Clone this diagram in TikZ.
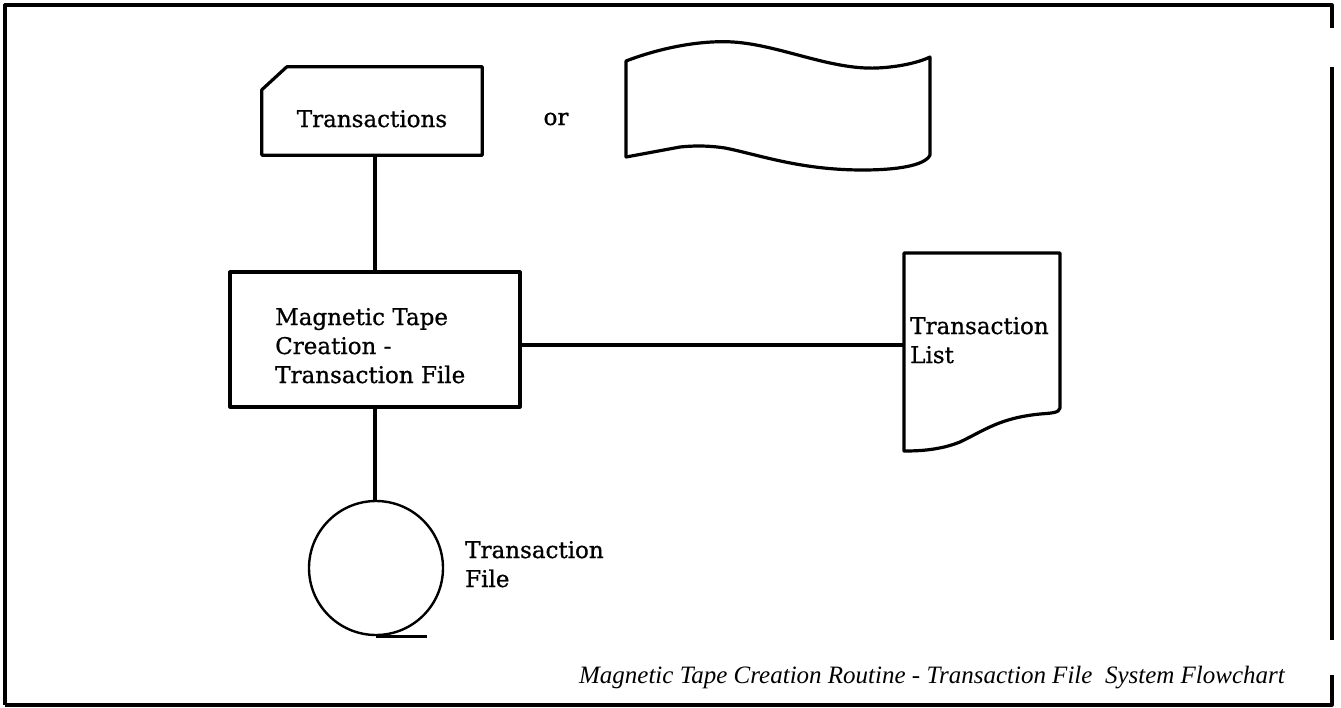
\documentclass[tikz,border=0pt]{standalone}
\usepackage{fontspec}
\setmainfont{DejaVu Serif}[FakeBold=0.8]
\newfontfamily\capfont{Liberation Serif}
\begin{document}
\begin{tikzpicture}[x=1pt,y=-1pt,line join=round,
  symb/.style={draw,line width=3.2pt},
  link/.style={line width=3.2pt},
  frame/.style={line width=3.2pt},
  lbl/.style={font=\fontsize{23}{29}\selectfont,inner sep=0pt,align=left},
  capt/.style={font=\capfont\itshape\fontsize{25}{30}\selectfont,inner sep=0pt}]
\useasboundingbox (0,0) rectangle (1341,707);

% outer frame (right edge broken)
\draw[frame] (5,705) -- (5,5) -- (1332,5) -- (1332,28);
\draw[frame] (5,705) -- (1332,705) -- (1332,675);
\draw[frame] (1332,67) -- (1332,640);

% punched card input
\node[inner sep=0pt,minimum width=220,minimum height=88] (card) at (372,111) {};
\draw[symb] ([yshift=-23pt]card.north west) -- ([xshift=25pt]card.north west)
  -- (card.north east) -- (card.south east) -- (card.south west) -- cycle;
\node[lbl,anchor=base] (trans) at (372,127) {Transactions};

\node[lbl,anchor=base] (or) at (556,125) {or};

% punched tape input
\draw[symb] (626,61) .. controls (660,48) and (700,40) .. (733,42)
  .. controls (780,45) and (830,70) .. (877,68)
  .. controls (900,67) and (920,62) .. (930,57)
  -- (930,155)
  .. controls (925,166) and (895,170) .. (863,170)
  .. controls (800,170) and (760,155) .. (725,148)
  .. controls (705,145) and (690,146) .. (680,147)
  -- (626,157) -- cycle;

% process
\node[symb,inner sep=0pt,minimum width=290,minimum height=135] (proc) at (375,339.5) {};
\node[lbl,anchor=base west] (proctxt) at (275,383) {Magnetic Tape\\Creation -\\Transaction File};

% document output
\coordinate (docin) at (904,345);
\draw[symb] (904,253) -- (1060,253) -- (1060,408)
  .. controls (1059,413) and (1052,413) .. (1040,414)
  .. controls (1000,418) and (985,430) .. (960,442)
  .. controls (940,450) and (920,451) .. (904,451) -- cycle;
\node[lbl,anchor=base west] (doctxt) at (910,363) {Transaction\\List};

% magnetic tape output
\node[draw,circle,line width=2.4pt,inner sep=0pt,minimum size=134] (reel) at (376,568) {};
\draw[link] (reel.south) -- ++(51,0);
\node[lbl,anchor=base west] (reeltxt) at (465,587) {Transaction\\File};

% flow lines
\draw[link] (card.south -| proc.north) -- (proc.north);
\draw[link] (proc.south) -- (proc.south |- reel.north);
\draw[link] (proc.east |- docin) -- (docin);

% caption
\node[capt,anchor=base east] (cap) at (1285,683) {Magnetic Tape Creation Routine - Transaction File\ \ System Flowchart};
\end{tikzpicture}
\end{document}
